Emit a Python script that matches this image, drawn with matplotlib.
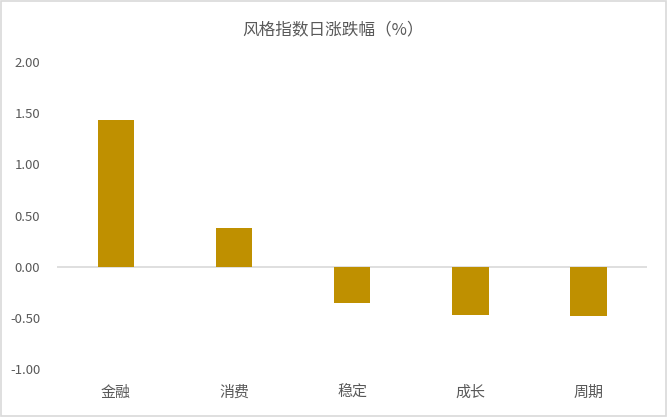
import numpy as np
import matplotlib.pyplot as plt
from matplotlib.patches import Rectangle

plt.rcParams['font.family'] = ['Noto Sans CJK SC', 'DejaVu Sans']

# data
categories = ['金融', '消费', '稳定', '成长', '周期']
values = [1.43, 0.38, -0.35, -0.47, -0.48]
yticks = [-1.0, -0.5, 0.0, 0.5, 1.0, 1.5, 2.0]

text_col = '#595959'
bar_col = '#BF9000'

fig = plt.figure(figsize=(6.67, 4.17), dpi=100)
ax = fig.add_axes([0.0855, 0.115, 0.885, 0.736])

x = np.arange(len(categories))
ax.bar(x, values, width=0.31, color=bar_col, zorder=3)
ax.axhline(0, color='#D9D9D9', lw=1.2, zorder=2)

ax.set_xlim(-0.5, len(categories) - 0.5)
ax.set_ylim(-1.0, 2.0)
ax.set_yticks(yticks)
ax.set_yticklabels([f'{v:.2f}' for v in yticks])
ax.set_xticks(x)
ax.set_xticklabels(categories)

ax.tick_params(axis='y', length=0, pad=12, labelsize=9.5, labelcolor=text_col)
ax.tick_params(axis='x', length=0, pad=12, labelsize=10.8, labelcolor=text_col)
for s in ax.spines.values():
    s.set_visible(False)

fig.text(0.5, 0.928, '风格指数日涨跌幅（%）', ha='center', va='center',
         fontsize=12, color=text_col)

# light frame around the chart
fig.patches.append(Rectangle((0.002, 0.003), 0.996, 0.994, transform=fig.transFigure,
                             fill=False, edgecolor='#D9D9D9', lw=1.2))

fig.savefig('out.png', dpi=100)
